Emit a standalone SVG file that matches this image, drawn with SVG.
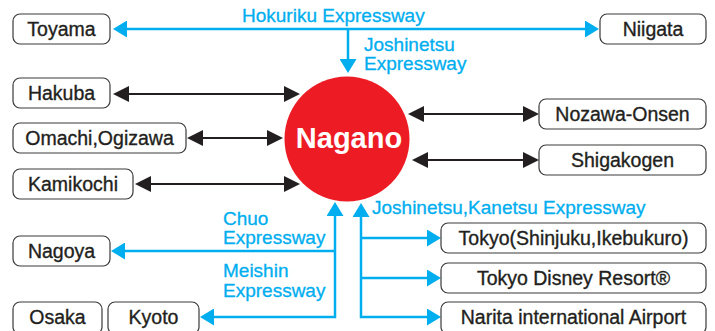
<svg xmlns="http://www.w3.org/2000/svg" width="715" height="331" viewBox="0 0 715 331">
<defs>
<style>
.box rect{fill:#fff;stroke:#3a3a3a;stroke-width:1.2}
.box text{font-family:"Liberation Sans",Arial,Helvetica,sans-serif;font-size:19.5px;fill:#231f20;stroke:#231f20;stroke-width:0.35;text-anchor:middle}
.lbl{font-family:"Liberation Sans",Arial,Helvetica,sans-serif;font-size:19px;fill:#00aeef;stroke:#00aeef;stroke-width:0.3}
.blue{stroke:#00aeef;stroke-width:2.5;fill:none}
.black{stroke:#231f20;stroke-width:2;fill:none}
</style>
<marker id="ab" viewBox="0 0 14 17" markerWidth="14" markerHeight="17" refX="9" refY="8.5" markerUnits="userSpaceOnUse" orient="auto-start-reverse">
<path d="M0,0 L14,8.5 L0,17 z" fill="#00aeef"/>
</marker>
<marker id="ak" viewBox="0 0 16 16" markerWidth="16" markerHeight="16" refX="11" refY="8" markerUnits="userSpaceOnUse" orient="auto-start-reverse">
<path d="M0,0 L16,8 L0,16 z" fill="#231f20"/>
</marker>
</defs>
<rect width="715" height="331" fill="#fff"/>
<g id="connectors">
<path class="blue" d="M118,29 H594" marker-start="url(#ab)" marker-end="url(#ab)"/>
<path class="blue" d="M348,29 V68" marker-end="url(#ab)"/>
<path class="blue" d="M205,317 H335 V207" marker-start="url(#ab)" marker-end="url(#ab)"/>
<path class="blue" d="M335,251 H116" marker-end="url(#ab)"/>
<path class="blue" d="M436,317 H361 V208" marker-start="url(#ab)" marker-end="url(#ab)"/>
<path class="blue" d="M361,238 H436" marker-end="url(#ab)"/>
<path class="blue" d="M361,278 H436" marker-end="url(#ab)"/>
<path class="black" d="M118,94 H295" marker-start="url(#ak)" marker-end="url(#ak)"/>
<path class="black" d="M192,138 H278" marker-start="url(#ak)" marker-end="url(#ak)"/>
<path class="black" d="M140,184 H295" marker-start="url(#ak)" marker-end="url(#ak)"/>
<path class="black" d="M413,114 H534" marker-start="url(#ak)" marker-end="url(#ak)"/>
<path class="black" d="M417,160 H534" marker-start="url(#ak)" marker-end="url(#ak)"/>
<text class="lbl" x="242" y="22">Hokuriku Expressway</text>
<text class="lbl" x="364" y="51">Joshinetsu</text>
<text class="lbl" x="364" y="70">Expressway</text>
<text class="lbl" x="223" y="225">Chuo</text>
<text class="lbl" x="223" y="244">Expressway</text>
<text class="lbl" x="223" y="277">Meishin</text>
<text class="lbl" x="223" y="297">Expressway</text>
<text class="lbl" x="372" y="214">Joshinetsu,Kanetsu Expressway</text>
</g>
<g id="nagano">
<circle cx="347" cy="139" r="62.5" fill="#ed1c24"/>
<text x="349" y="148" font-family="'Liberation Sans',Arial,Helvetica,sans-serif" font-size="29" font-weight="bold" fill="#fff" text-anchor="middle">Nagano</text>
</g>
<g id="toyama" class="box"><rect x="13" y="14" width="97" height="30" rx="7"/><text x="61.5" y="36">Toyama</text></g>
<g id="niigata" class="box"><rect x="600" y="14" width="106" height="30" rx="7"/><text x="653" y="36">Niigata</text></g>
<g id="hakuba" class="box"><rect x="13" y="78" width="97" height="30" rx="7"/><text x="61.5" y="100">Hakuba</text></g>
<g id="omachi" class="box"><rect x="13" y="123" width="173" height="30" rx="7"/><text x="99.5" y="145">Omachi,Ogizawa</text></g>
<g id="kamikochi" class="box"><rect x="13" y="169" width="120" height="30" rx="7"/><text x="73" y="191">Kamikochi</text></g>
<g id="nagoya" class="box"><rect x="13" y="236" width="97" height="30" rx="7"/><text x="61.5" y="258">Nagoya</text></g>
<g id="osaka" class="box"><rect x="13" y="302" width="89" height="32" rx="7"/><text x="57.5" y="324">Osaka</text></g>
<g id="kyoto" class="box"><rect x="108" y="302" width="91" height="32" rx="7"/><text x="153.5" y="324">Kyoto</text></g>
<g id="nozawa" class="box"><rect x="539" y="99" width="167" height="30" rx="7"/><text x="622.5" y="121">Nozawa-Onsen</text></g>
<g id="shigakogen" class="box"><rect x="539" y="145" width="167" height="30" rx="7"/><text x="622.5" y="167">Shigakogen</text></g>
<g id="tokyo" class="box"><rect x="441" y="223" width="265" height="30" rx="7"/><text x="573.5" y="245">Tokyo(Shinjuku,Ikebukuro)</text></g>
<g id="disney" class="box"><rect x="441" y="263" width="265" height="30" rx="7"/><text x="573.5" y="285">Tokyo Disney Resort®</text></g>
<g id="narita" class="box"><rect x="441" y="302" width="265" height="32" rx="7"/><text x="573.5" y="324">Narita international Airport</text></g>
</svg>
